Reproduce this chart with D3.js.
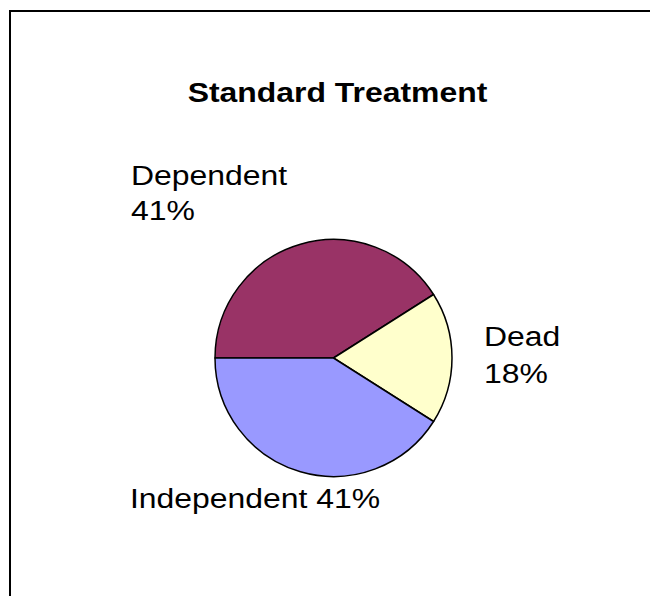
<!DOCTYPE html>
<html><head><meta charset="utf-8">
<script src="https://cdn.jsdelivr.net/npm/d3@7"></script>
<style>html,body{margin:0;padding:0;background:#fff;overflow:hidden}</style>
</head><body>
<script>
const categories = ["Dependent", "Dead", "Independent"];
const values = [41, 18, 41];
const colors = ["#993366", "#FFFFCC", "#9999FF"];
const title = "Standard Treatment";

const W = 650, H = 596;
const svg = d3.select("body").append("svg").attr("width", W).attr("height", H)
  .style("display", "block");

svg.append("line").attr("x1", 9).attr("x2", W + 5).attr("y1", 11).attr("y2", 11)
  .attr("stroke", "#000").attr("stroke-width", 2);
svg.append("line").attr("x1", 10).attr("x2", 10).attr("y1", 10).attr("y2", H)
  .attr("stroke", "#000").attr("stroke-width", 2);

const cx = 333.5, cy = 358, r = 118.5;
const pie = d3.pie().sort(null).value(d => d)
  .startAngle(-Math.PI / 2).endAngle(1.5 * Math.PI);
const arc = d3.arc().innerRadius(0).outerRadius(r);
const g = svg.append("g").attr("transform", `translate(${cx},${cy})`);
g.selectAll("path").data(pie(values)).join("path")
  .attr("d", arc).attr("fill", (d, i) => colors[i])
  .attr("stroke", "#000").attr("stroke-width", 1.5).attr("stroke-linejoin", "round");

const sx = 1.14;
function txt(x, y, s, opts = {}) {
  return svg.append("text")
    .attr("transform", `translate(${x},${y}) scale(${sx},1)`)
    .attr("font-family", "Liberation Sans, Arial, sans-serif")
    .attr("font-size", opts.size || 28)
    .attr("font-weight", opts.bold ? "bold" : "normal")
    .attr("text-anchor", opts.anchor || "start")
    .attr("fill", "#000").text(s);
}
txt(337.5, 102, title, {bold: true, anchor: "middle"});
const pct = values.map(v => v + "%");
txt(131, 184.5, categories[0]);
txt(131, 220, pct[0]);
txt(484, 346, categories[1]);
txt(484, 383, pct[1]);
txt(130, 508, categories[2] + " " + pct[2]);
</script>
</body></html>
